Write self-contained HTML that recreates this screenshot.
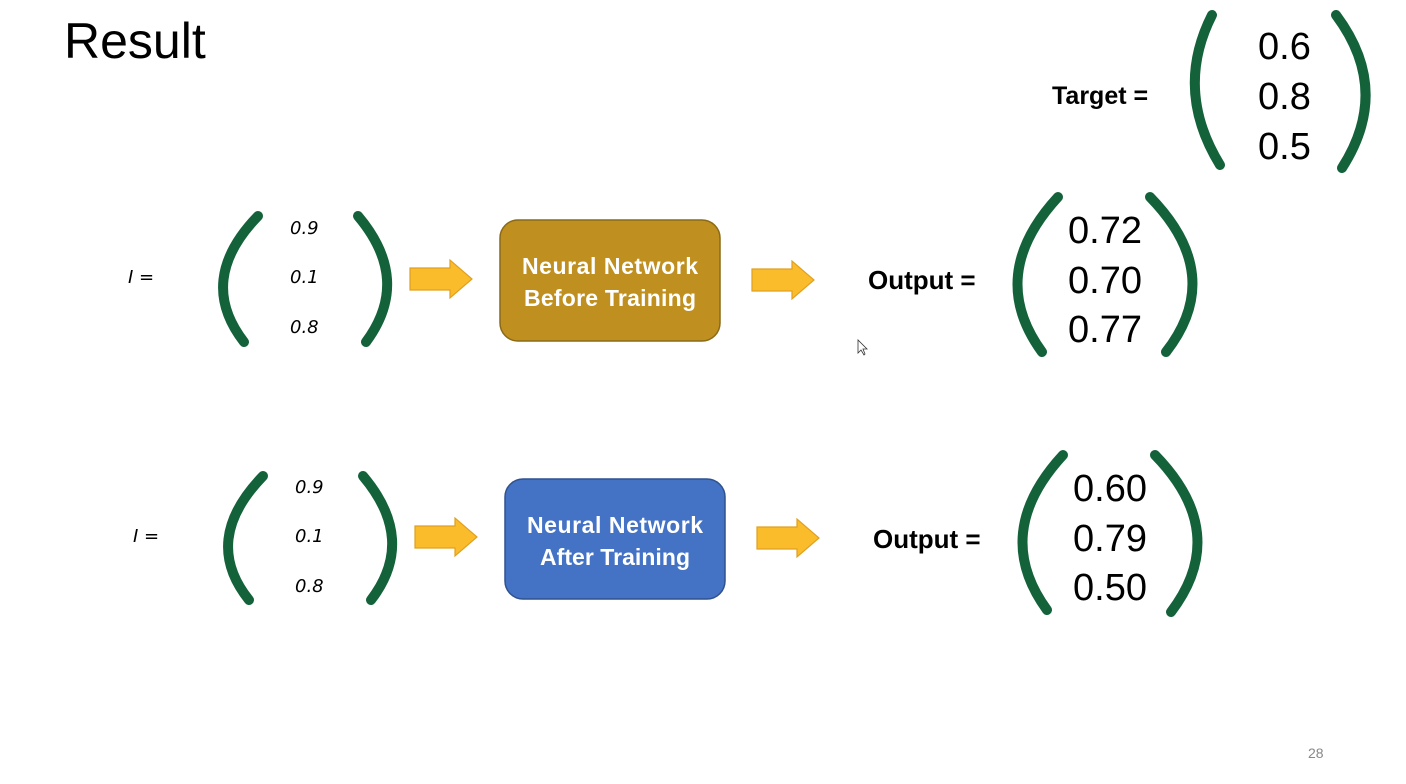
<!DOCTYPE html>
<html><head><style>
body{margin:0;background:#fff;}
svg{display:block;font-family:"Liberation Sans",sans-serif;}
</style></head><body>
<svg width="1406" height="784" viewBox="0 0 1406 784">
<defs>
<g id="arr"><path d="M0,8 H40 V0 L62,19 L40,38 V30 H0 Z" fill="#fbbc2c" stroke="#e0a020" stroke-width="1.2"/></g>
</defs>
<text x="64" y="58" font-size="50" fill="#000">Result</text>
<g fill="none" stroke="#14623a" stroke-width="10" stroke-linecap="round">
<path d="M1212,15 Q1174,90 1220,165"/><path d="M1336,15 Q1392,90 1342,168"/>
<path d="M258,216 Q196,280 244,342"/><path d="M358,216 Q412,280 366,342"/>
<path d="M263,476 Q201,540 249,600"/><path d="M363,476 Q417,540 371,600"/>
<path d="M1058,197 Q986,275 1042,352"/><path d="M1150,197 Q1226,275 1166,352"/>
<path d="M1063,455 Q991,533 1047,610"/><path d="M1155,455 Q1231,533 1171,612"/>
</g>
<text x="1052" y="104" font-size="25" font-weight="bold">Target =</text>
<g font-size="38" fill="#000">
<text x="1258" y="59">0.6</text><text x="1258" y="109">0.8</text><text x="1258" y="159">0.5</text>
<text x="1068" y="243">0.72</text><text x="1068" y="293">0.70</text><text x="1068" y="342">0.77</text>
<text x="1073" y="501">0.60</text><text x="1073" y="551">0.79</text><text x="1073" y="600">0.50</text>
</g>
<text x="868" y="289" font-size="26" font-weight="bold">Output =</text>
<text x="873" y="548" font-size="26" font-weight="bold">Output =</text>
<g font-size="18" font-style="italic" fill="#000" font-family="'DejaVu Sans',sans-serif">
<text x="128" y="283">I =</text>
<text x="290" y="234">0.9</text><text x="290" y="283">0.1</text><text x="290" y="333">0.8</text>
<text x="133" y="542">I =</text>
<text x="295" y="493">0.9</text><text x="295" y="542">0.1</text><text x="295" y="592">0.8</text>
</g>
<use href="#arr" x="410" y="260"/><use href="#arr" x="752" y="261"/>
<use href="#arr" x="415" y="518"/><use href="#arr" x="757" y="519"/>
<rect x="500" y="220" width="220" height="121" rx="18" fill="#bf8f20" stroke="#8a6a18" stroke-width="1.5"/>
<text x="610" y="274" font-size="23" font-weight="bold" fill="#fff" text-anchor="middle" textLength="176">Neural Network</text>
<text x="610" y="306" font-size="23" font-weight="bold" fill="#fff" text-anchor="middle" textLength="172">Before Training</text>
<rect x="505" y="479" width="220" height="120" rx="18" fill="#4472c4" stroke="#2f528f" stroke-width="1.5"/>
<text x="615" y="533" font-size="23" font-weight="bold" fill="#fff" text-anchor="middle" textLength="176">Neural Network</text>
<text x="615" y="565" font-size="23" font-weight="bold" fill="#fff" text-anchor="middle" textLength="150">After Training</text>
<path d="M858,340 L858,353 L861,350 L864,355 L865,354 L863,349 L867,349 Z" fill="#fff" stroke="#333" stroke-width="0.8"/>
<text x="1308" y="758" font-size="14" fill="#888">28</text>
</svg>
</body></html>
